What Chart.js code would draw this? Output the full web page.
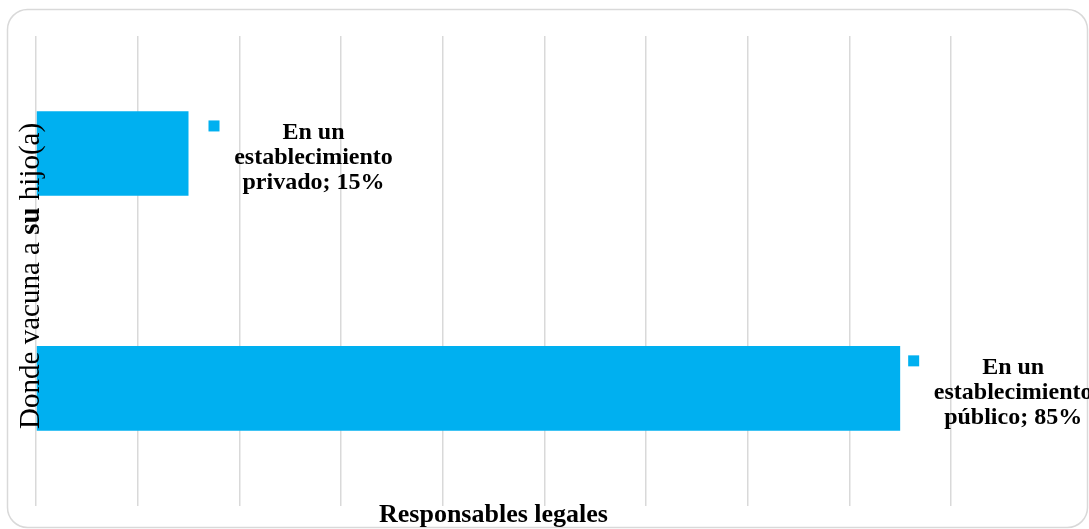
<!DOCTYPE html>
<html>
<head>
<meta charset="utf-8">
<title>Donde vacuna a su hijo(a)</title>
<script src="https://cdn.jsdelivr.net/npm/chart.js@4/dist/chart.umd.min.js"></script>
<style>
  html, body { margin: 0; padding: 0; background: #ffffff; }
  canvas { display: block; }
</style>
</head>
<body>
<canvas id="chart" width="1089" height="529"></canvas>
<script>
// Categories (one bar each, top to bottom) and their shares in percent
const categories = ['En un establecimiento privado', 'En un establecimiento público'];
const values = [15, 85];

// Value axis: 0 to 90 %, a gridline every 10 %
const axisMin = 0;
const axisMax = 90;
const axisStep = 10;

// Axis titles (the vertical one has a bold word in the middle)
const xTitle = 'Responsables legales';
const yTitleParts = [
  { text: 'Donde vacuna a ', bold: false },
  { text: 'su', bold: true },
  { text: ' hijo(a)', bold: false }
];

const BAR_COLOR = '#00B0F0';
const GRID_COLOR = '#D9D9D9';
const SERIF = "'Liberation Serif', 'Times New Roman', serif";

// White background with a rounded light-grey frame
const framePlugin = {
  id: 'frame',
  beforeDraw(chart) {
    const ctx = chart.ctx;
    ctx.save();
    ctx.fillStyle = '#ffffff';
    ctx.fillRect(0, 0, chart.width, chart.height);
    ctx.beginPath();
    ctx.roundRect(7.5, 9.5, 1080, 518, 20);
    ctx.strokeStyle = '#D9D9D9';
    ctx.lineWidth = 1.5;
    ctx.stroke();
    ctx.restore();
  }
};

// Rotated y-axis title with mixed regular / bold runs
const yTitlePlugin = {
  id: 'yTitleMixed',
  afterDraw(chart, args, opts) {
    const ctx = chart.ctx;
    const area = chart.chartArea;
    const size = opts.size;
    const fontFor = (p) => (p.bold ? 'bold ' : '') + size + 'px ' + SERIF;
    let total = 0;
    const widths = yTitleParts.map(p => {
      ctx.font = fontFor(p);
      const w = ctx.measureText(p.text).width;
      total += w;
      return w;
    });
    const cy = (area.top + area.bottom) / 2 + opts.shiftY;
    ctx.save();
    ctx.translate(opts.baselineX, cy);
    ctx.rotate(-Math.PI / 2);
    ctx.fillStyle = '#000000';
    ctx.textBaseline = 'alphabetic';
    ctx.textAlign = 'left';
    let x = -total / 2;
    yTitleParts.forEach((p, i) => {
      ctx.font = fontFor(p);
      ctx.fillText(p.text, x, 0);
      x += widths[i];
    });
    ctx.restore();
  }
};

// Data labels: legend key square + wrapped "category; value%" text beside each bar
const barLabelPlugin = {
  id: 'barLabels',
  afterDatasetsDraw(chart, args, opts) {
    const ctx = chart.ctx;
    const meta = chart.getDatasetMeta(0);
    ctx.save();
    ctx.font = 'bold ' + opts.size + 'px ' + SERIF;
    ctx.textAlign = 'center';
    ctx.textBaseline = 'middle';
    meta.data.forEach((bar, i) => {
      const text = categories[i] + '; ' + values[i] + '%';
      // word wrap to the label box width
      const words = text.split(' ');
      const lines = [];
      let line = '';
      words.forEach(w => {
        const trial = line ? line + ' ' + w : w;
        if (line && ctx.measureText(trial).width > opts.wrapWidth) {
          lines.push(line);
          line = w;
        } else {
          line = trial;
        }
      });
      if (line) lines.push(line);

      const keyX = bar.x + opts.gaps[i];
      const firstY = bar.y + opts.textDy - (lines.length - 1) / 2 * opts.lineGap;
      // legend key
      ctx.fillStyle = BAR_COLOR;
      ctx.fillRect(keyX, bar.y - opts.keyDy, opts.keySize, opts.keySize);
      // text block, centred on the bar
      ctx.fillStyle = '#000000';
      lines.forEach((ln, k) => {
        ctx.fillText(ln, keyX + opts.textCenterDx, firstY + k * opts.lineGap);
      });
    });
    ctx.restore();
  }
};

new Chart(document.getElementById('chart'), {
  type: 'bar',
  data: {
    labels: categories,
    datasets: [{
      data: values,
      backgroundColor: BAR_COLOR,
      borderWidth: 0,
      categoryPercentage: 1.0,
      barPercentage: 0.36
    }]
  },
  options: {
    indexAxis: 'y',
    responsive: false,
    animation: false,
    devicePixelRatio: 1,
    layout: { padding: { left: 36, right: 138, top: 36, bottom: 0 } },
    scales: {
      x: {
        min: axisMin,
        max: axisMax,
        ticks: { display: false, stepSize: axisStep },
        grid: { color: GRID_COLOR, lineWidth: 1.5, drawTicks: false },
        border: { display: false },
        title: {
          display: true,
          text: xTitle,
          color: '#000000',
          font: { family: SERIF, size: 26, weight: 'bold', lineHeight: 0.7 },
          padding: { top: 0, bottom: 5 }
        }
      },
      y: { display: false }
    },
    plugins: {
      legend: { display: false },
      tooltip: { enabled: false },
      yTitleMixed: { size: 29, baselineX: 39, shiftY: 5 },
      barLabels: { size: 24, lineGap: 25, textDy: 4, wrapWidth: 175, keySize: 11, keyDy: 33, gaps: [20, 8], textCenterDx: 105 }
    }
  },
  plugins: [framePlugin, yTitlePlugin, barLabelPlugin]
});
</script>
</body>
</html>
